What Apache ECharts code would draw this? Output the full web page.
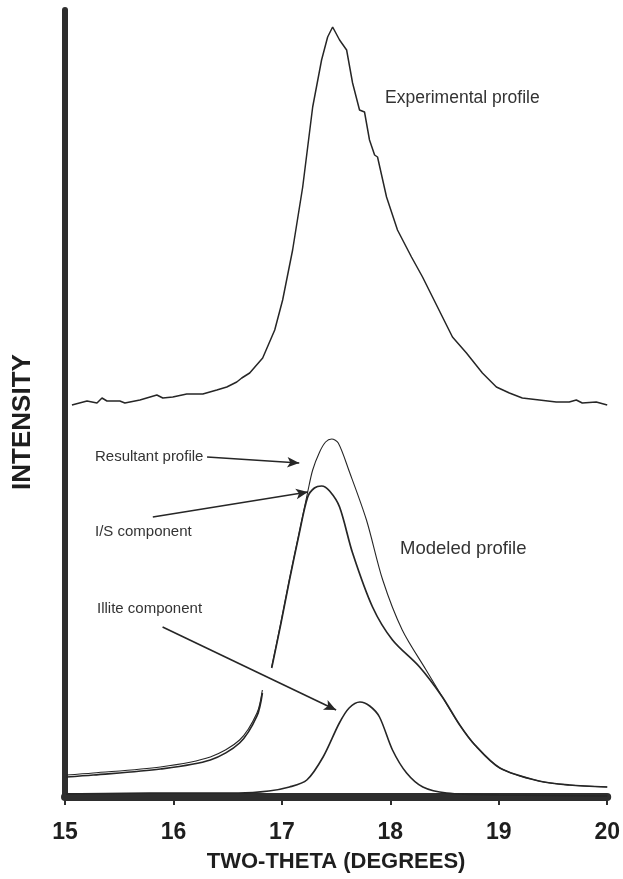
<!DOCTYPE html>
<html>
<head>
<meta charset="utf-8">
<script src="https://cdn.jsdelivr.net/npm/echarts@6/dist/echarts.min.js"></script>
<style>
html,body{margin:0;padding:0;background:#fff;}
#chart{width:623px;height:879px;}
</style>
</head>
<body>
<div id="chart"></div>
<script>
// X ticks (two-theta, degrees)
var xTicks = [15, 16, 17, 18, 19, 20];

// Experimental profile: [two-theta, intensity]
var experimental = [
  [15.064,392],[15.203,396],[15.295,394],[15.341,399],[15.387,396],[15.506,396],[15.552,394],
  [15.691,397],[15.847,402],[15.902,399],[15.994,400],[16.123,403],[16.271,403],[16.400,407],
  [16.492,410],[16.584,415],[16.630,419],[16.703,424],[16.823,439],[16.934,467],[17.007,497],
  [17.099,547],[17.192,610],[17.284,690],[17.366,737],[17.422,760],[17.468,770],[17.532,757],
  [17.597,747],[17.652,714],[17.716,687],[17.762,685],[17.808,657],[17.855,642],[17.882,640],
  [17.965,600],[18.066,567],[18.195,540],[18.297,520],[18.389,500],[18.481,480],[18.573,460],
  [18.702,444],[18.849,424],[18.978,410],[19.098,404],[19.217,399],[19.374,397],[19.530,395],
  [19.650,395],[19.715,397],[19.770,394],[19.899,395],[20.0,392]
];

// Resultant (modeled) profile
var resultant = [
  [15.01,22],[15.26,24],[15.88,30],[16.34,40],[16.61,57],[16.77,84],[16.82,107],
  [16.86,null],
  [16.906,130],[16.99,174],[17.07,218],[17.155,262],[17.238,305],[17.284,327],[17.348,345],
  [17.403,355],[17.459,358],[17.52,354],[17.62,326],[17.78,277],[17.93,217],[18.11,167],
  [18.33,127],[18.48,100],[18.64,72],[18.78,52],[19.01,29],[19.37,16],[19.65,12],[20.0,10]
];

// I/S component
var isComponent = [
  [15.01,20],[15.26,22],[15.88,28],[16.34,37],[16.61,54],[16.77,81],[16.82,104],
  [16.86,null],
  [16.906,129],[16.99,173],[17.07,217],[17.155,261],[17.238,300],[17.30,309],[17.366,311],
  [17.44,306],[17.532,290],[17.652,244],[17.836,190],[18.02,157],[18.27,130],[18.48,100],
  [18.64,72],[18.78,52],[19.01,29],[19.37,16],[19.65,12],[20.0,10]
];

// Illite component
var illite = [
  [15.01,3],[15.78,4],[16.6,4],[16.88,6],[17.07,10],[17.23,17],[17.38,40],[17.53,74],
  [17.62,89],[17.72,95],[17.81,91],[17.90,80],[18.02,47],[18.15,24],[18.30,10],
  [18.52,4],[19.0,2],[20.0,1]
];

// Annotation arrows: [from, to] in data coordinates
var arrowResultant = [[16.31,340],[17.16,334]];
var arrowIS = [[15.81,280],[17.24,305]];
var arrowIllite = [[15.90,170],[17.50,87]];

var FONT = '"Liberation Sans", Arial, Helvetica, sans-serif';
var ink = '#262626';

var chart = echarts.init(document.getElementById('chart'), null, {renderer:'canvas'});

function arrowData(a){ return [{coord:a[0]},{coord:a[1]}]; }

var option = {
  animation:false,
  backgroundColor:'#ffffff',
  grid:{left:65, right:15, top:10, bottom:82},
  xAxis:{
    type:'value', min:xTicks[0], max:xTicks[xTicks.length-1], interval:1,
    axisLine:{show:true, onZero:false, lineStyle:{color:'#2e2e2e', width:8}},
    axisTick:{show:true, length:8, inside:false, lineStyle:{color:'#2e2e2e', width:2}},
    axisLabel:{color:'#1e1e1e', fontFamily:FONT, fontWeight:'bold', fontSize:23, margin:24},
    splitLine:{show:false},
    name:'TWO-THETA (DEGREES)', nameLocation:'middle', nameGap:54,
    nameTextStyle:{color:'#1e1e1e', fontFamily:FONT, fontWeight:'bold', fontSize:22}
  },
  yAxis:{
    type:'value', min:0, max:787,
    axisLine:{show:true, onZero:false, lineStyle:{color:'#2e2e2e', width:6}},
    axisTick:{show:false}, axisLabel:{show:false}, splitLine:{show:false}
  },
  series:[
    {type:'line', name:'Experimental profile', data:experimental, showSymbol:false, symbol:'none',
     lineStyle:{color:ink, width:1.5}},
    {type:'line', name:'Resultant profile', data:resultant, showSymbol:false, symbol:'none', smooth:0.3,
     lineStyle:{color:ink, width:1.1}},
    {type:'line', name:'I/S component', data:isComponent, showSymbol:false, symbol:'none', smooth:0.3,
     lineStyle:{color:ink, width:1.7}},
    {type:'line', name:'Illite component', data:illite, showSymbol:false, symbol:'none', smooth:0.3,
     lineStyle:{color:ink, width:1.6},
     markLine:{silent:true, symbol:['none','arrow'], symbolSize:[8,12],
       label:{show:false}, lineStyle:{color:ink, width:1.6, type:'solid'},
       data:[arrowData(arrowResultant), arrowData(arrowIS), arrowData(arrowIllite)]}
    }
  ],
  graphic:[
    {type:'text', x:23, y:422, rotation:Math.PI/2,
     style:{text:'INTENSITY', fill:'#1e1e1e', font:'bold 26px '+FONT, textAlign:'center', textVerticalAlign:'middle'}},
    {type:'text', left:385, top:89, style:{text:'Experimental profile', fill:'#333', font:'17.5px '+FONT}},
    {type:'text', left:400, top:539, style:{text:'Modeled profile', fill:'#333', font:'18.5px '+FONT}},
    {type:'text', left:95, top:449, style:{text:'Resultant profile', fill:'#333', font:'15px '+FONT}},
    {type:'text', left:95, top:524, style:{text:'I/S component', fill:'#333', font:'15px '+FONT}},
    {type:'text', left:97, top:601, style:{text:'Illite component', fill:'#333', font:'15px '+FONT}}
  ]
};
chart.setOption(option);
</script>
</body>
</html>
